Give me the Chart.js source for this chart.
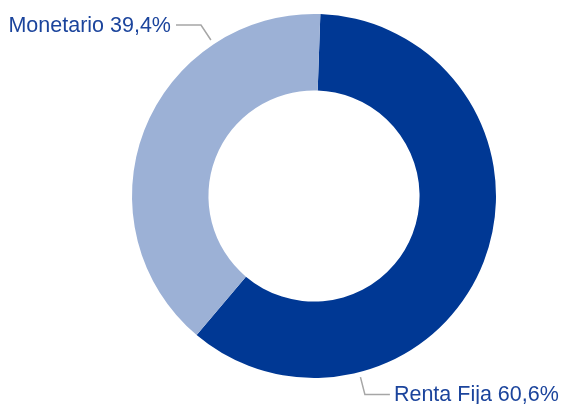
<!DOCTYPE html>
<html>
<head>
<meta charset="utf-8">
<script src="https://cdn.jsdelivr.net/npm/chart.js@4.4.1/dist/chart.umd.min.js"></script>
<style>
  html, body { margin: 0; padding: 0; background: #fff; }
  #wrap { width: 561px; height: 404px; position: relative; }
</style>
</head>
<body>
<div id="wrap"><canvas id="pie"></canvas></div>
<script>
// datos de la cartera
const categories = ['Renta Fija', 'Monetario'];
const shares = [60.6, 39.4];
const labelText = ['Renta Fija 60,6%', 'Monetario 39,4%'];
const sliceColors = ['#003894', '#9cb1d6'];

const TEXT_COLOR = '#1b449c';
const LEADER_COLOR = '#a6a6a6';

// etiquetas con línea guía, ancladas al 75% de cada arco
const leaderLabels = {
  id: 'leaderLabels',
  afterDatasetsDraw(chart) {
    const ctx = chart.ctx;
    const meta = chart.getDatasetMeta(0);
    ctx.save();
    ctx.font = '21.5px "Liberation Sans", Arial, sans-serif';
    ctx.textBaseline = 'middle';
    meta.data.forEach((arc, i) => {
      const p = arc.getProps(['x', 'y', 'startAngle', 'endAngle', 'outerRadius'], true);
      const a = p.startAngle + (p.endAngle - p.startAngle) * 0.75;
      const r0 = p.outerRadius + 5, r1 = p.outerRadius + 23;
      const x0 = p.x + Math.cos(a) * r0, y0 = p.y + Math.sin(a) * r0;
      const x1 = p.x + Math.cos(a) * r1, y1 = p.y + Math.sin(a) * r1;
      const right = Math.cos(a) >= 0;
      const x2 = x1 + (right ? 25 : -25);
      ctx.strokeStyle = LEADER_COLOR;
      ctx.lineWidth = 1.5;
      ctx.beginPath();
      ctx.moveTo(x0, y0);
      ctx.lineTo(x1, y1);
      ctx.lineTo(x2, y1);
      ctx.stroke();
      ctx.fillStyle = TEXT_COLOR;
      ctx.textAlign = right ? 'left' : 'right';
      ctx.fillText(labelText[i], x2 + (right ? 4 : -5), y1 + 1);
    });
    ctx.restore();
  }
};

new Chart(document.getElementById('pie'), {
  type: 'doughnut',
  data: {
    labels: categories,
    datasets: [{
      data: shares,
      backgroundColor: sliceColors,
      borderWidth: 0
    }]
  },
  options: {
    responsive: true,
    maintainAspectRatio: false,
    animation: false,
    rotation: 2,
    cutout: '58%',
    layout: {padding: {left: 132, right: 65, top: 14, bottom: 26}},
    plugins: {
      legend: {display: false},
      tooltip: {enabled: false}
    }
  },
  plugins: [leaderLabels]
});
</script>
</body>
</html>
